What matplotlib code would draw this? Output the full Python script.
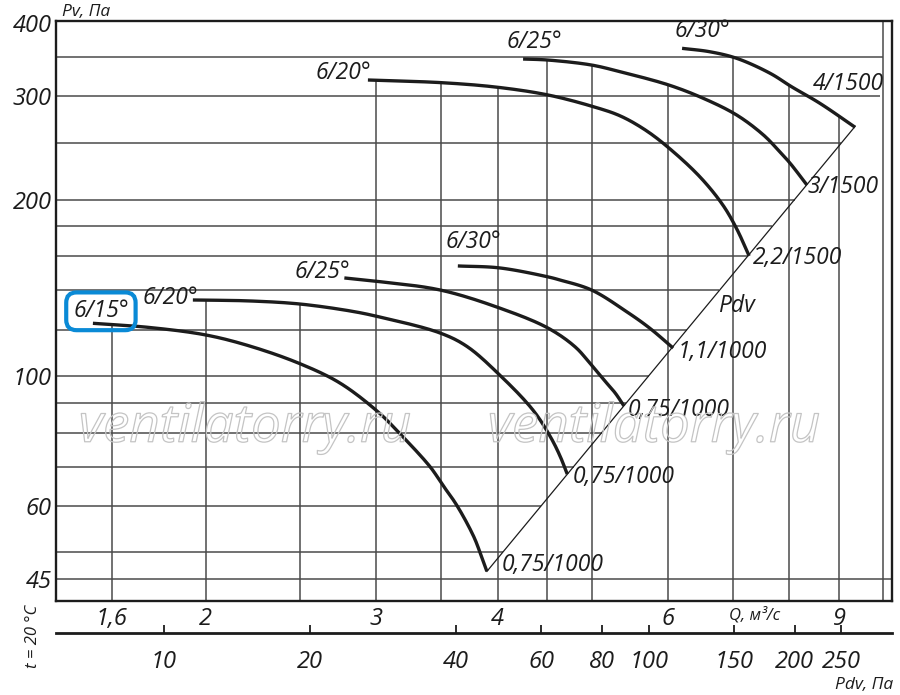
import numpy as np
import matplotlib
matplotlib.use("Agg")
import matplotlib.pyplot as plt
import matplotlib.patheffects as pe
from matplotlib.ticker import NullLocator, FixedLocator, FixedFormatter, NullFormatter

# ---------------- data ----------------
# flow Q, m3/s  and static pressure Pv, Pa for each characteristic
q_615_lo = [1.53, 1.75, 2.0, 2.22, 2.5, 2.75, 3.01, 3.17, 3.41, 3.51, 3.63, 3.78, 3.85, 3.90]
p_615_lo = [123.0, 121.0, 117.5, 112.5, 105.0, 97.3, 86.9, 79.8, 69.9, 65.2, 60.2, 53.2, 49.2, 46.4]

q_620_lo = [1.94, 2.22, 2.5, 2.82, 3.01, 3.49, 3.72, 4.02, 4.35, 4.53, 4.64, 4.72]
p_620_lo = [134.8, 134.3, 132.7, 129.1, 126.3, 118.4, 112.3, 100.4, 87.5, 79.0, 73.0, 68.0]

q_625_lo = [2.78, 3.01, 3.49, 4.02, 4.51, 4.81, 4.98, 5.16, 5.29, 5.40]
p_625_lo = [147.0, 145.0, 140.2, 130.6, 120.7, 112.1, 105.2, 98.1, 93.5, 88.9]

q_630_lo = [3.64, 4.02, 4.51, 4.64, 5.0, 5.44, 5.74, 6.07]
p_630_lo = [154.1, 152.9, 147.6, 145.8, 140.2, 128.6, 120.7, 111.6]

q_620_hi = [2.94, 3.51, 4.0, 4.51, 5.02, 5.35, 5.68, 6.01, 6.47, 6.83, 7.06, 7.27]
p_620_hi = [320.0, 316.6, 311.0, 301.7, 288.2, 278.0, 263.0, 244.9, 218.6, 195.8, 178.2, 160.3]

q_625_hi = [4.25, 4.51, 5.0, 5.35, 6.01, 6.52, 7.06, 7.52, 7.79, 8.01, 8.34]
p_625_hi = [347.5, 346.1, 339.4, 330.6, 313.7, 297.8, 278.8, 257.9, 243.0, 230.9, 211.8]

q_630_hi = [6.2, 6.62, 7.06, 7.64, 8.04, 8.60, 9.35]
p_630_hi = [362.4, 357.6, 348.4, 328.6, 311.7, 292.0, 265.8]

curve_names = ["6/15°", "6/20°", "6/25°", "6/30°", "6/20°", "6/25°", "6/30°"]
motor_labels = ["0,75/1000", "0,75/1000", "0,75/1000", "1,1/1000",
                "2,2/1500", "3/1500", "4/1500"]

q_grid = [1.6, 2, 2.5, 3, 3.5, 4, 4.5, 5, 6, 7, 8, 9, 10]
q_ticks = [1.6, 2, 3, 4, 6, 9]
q_tick_labels = ["1,6", "2", "3", "4", "6", "9"]
p_grid = [45, 50, 60, 70, 80, 90, 100, 120, 140, 160, 180, 200, 250, 300, 350]
p_ticks = [45, 60, 100, 200, 300, 400]
p_tick_labels = ["45", "60", "100", "200", "300", "400"]
pdv_ticks = [10, 20, 40, 60, 80, 100, 150, 200, 250]
PDV_COEF = 3.05          # Pdv = k * Q^2, Pa

curves = [(q_615_lo, p_615_lo), (q_620_lo, p_620_lo), (q_625_lo, p_625_lo),
          (q_630_lo, p_630_lo), (q_620_hi, p_620_hi), (q_625_hi, p_625_hi),
          (q_630_hi, p_630_hi)]

# ---------------- layout / style ----------------
FONT = ["Open Sans", "DejaVu Sans"]
plt.rcParams["font.family"] = FONT
plt.rcParams["font.style"] = "italic"
INK = "#1c1c1c"
GRID = "#4a4a4a"

# label offsets in pixels (start labels: centre; end labels: left/centre)
start_offsets = [(8, 12), (-23, 2), (-22, 6), (16, 24), (-25, 7), (11, 17), (20, 17)]
end_offsets = [(15, 6), (5, -3), (4, -4), (5, -4), (4, -2), (1, -2), (-42, 43)]

fig = plt.figure(figsize=(9, 6.95), dpi=100)
ax = fig.add_axes([56 / 900, 1 - 601 / 695, (891.7 - 56) / 900, (601 - 21) / 695])
ax.set_xscale("log")
ax.set_yscale("log")
XL = (1.4016, 10.2)
YL = (41.3, 403.5)
ax.set_xlim(*XL)
ax.set_ylim(*YL)

for s in ax.spines.values():
    s.set_linewidth(1.7)
    s.set_color(INK)

ax.xaxis.set_major_locator(FixedLocator(q_ticks))
ax.xaxis.set_major_formatter(FixedFormatter(q_tick_labels))
ax.yaxis.set_major_locator(FixedLocator(p_ticks))
ax.yaxis.set_major_formatter(FixedFormatter(p_tick_labels))
for a in (ax.xaxis, ax.yaxis):
    a.set_minor_locator(NullLocator())
    a.set_minor_formatter(NullFormatter())
ax.tick_params(axis="x", length=0, pad=4, labelsize=17, colors=INK)
ax.tick_params(axis="y", length=0, pad=3, labelsize=17, colors=INK)


def smooth_path(q, p, n=16):
    """Centripetal Catmull-Rom through the read points, built in display space."""
    pts = ax.transData.transform(np.column_stack([q, p]))
    P = np.vstack([2 * pts[0] - pts[1], pts, 2 * pts[-1] - pts[-2]])
    out = []
    for i in range(1, len(P) - 2):
        p0, p1, p2, p3 = P[i - 1], P[i], P[i + 1], P[i + 2]
        t0 = 0.0
        t1 = t0 + np.linalg.norm(p1 - p0) ** 0.5
        t2 = t1 + np.linalg.norm(p2 - p1) ** 0.5
        t3 = t2 + np.linalg.norm(p3 - p2) ** 0.5
        t = np.linspace(t1, t2, n, endpoint=False)[:, None]
        a1 = (t1 - t) / (t1 - t0) * p0 + (t - t0) / (t1 - t0) * p1
        a2 = (t2 - t) / (t2 - t1) * p1 + (t - t1) / (t2 - t1) * p2
        a3 = (t3 - t) / (t3 - t2) * p2 + (t - t2) / (t3 - t2) * p3
        b1 = (t2 - t) / (t2 - t0) * a1 + (t - t0) / (t2 - t0) * a2
        b2 = (t3 - t) / (t3 - t1) * a2 + (t - t1) / (t3 - t1) * a3
        c = (t2 - t) / (t2 - t1) * b1 + (t - t1) / (t2 - t1) * b2
        out.append(c)
    out.append(pts[-1:])
    d = ax.transData.inverted().transform(np.vstack(out))
    return d[:, 0], d[:, 1]


# ---------------- grid clipped by curves and Pdv line ----------------
def envelope(q):
    top = None
    for cq, cp in curves:
        if cq[0] <= q <= cq[-1]:
            v = 10 ** np.interp(np.log10(q), np.log10(cq), np.log10(cp))
            top = v if top is None else max(top, v)
    return YL[1] if top is None else top


for qg in q_grid:
    ax.vlines(qg, YL[0], envelope(qg), color=GRID, lw=1.1, zorder=1)

p_diag_lo = PDV_COEF * q_615_lo[-1] ** 2
for pg in p_grid:
    if pg < p_diag_lo:
        xmax = XL[1]
    else:
        xmax = min(np.sqrt(pg / PDV_COEF), q_grid[-1])
    ax.hlines(pg, XL[0], xmax, color=GRID, lw=1.1, zorder=1)

# Pdv line
qd = np.geomspace(q_615_lo[-1], q_630_hi[-1], 60)
ax.plot(qd, PDV_COEF * qd ** 2, color=INK, lw=0.9, zorder=2)
ax.text(7.05, 131.6, "Pdv", fontsize=16.5, ha="center", va="center", color=INK)

# curves + labels
for i, (cq, cp) in enumerate(curves):
    sx, sy = smooth_path(cq, cp)
    ax.plot(sx, sy, color=INK, lw=2.4, solid_capstyle="butt", zorder=3)
    kw = dict(fontsize=16.5, color=INK, textcoords="offset pixels", zorder=4)
    if i == 0:
        ax.annotate(curve_names[i], (cq[0], cp[0]), xytext=start_offsets[i],
                    ha="center", va="center",
                    bbox=dict(boxstyle="round,pad=0.3,rounding_size=0.45",
                              fc="none", ec="#0a8ad6", lw=3), **kw)
    else:
        ax.annotate(curve_names[i], (cq[0], cp[0]), xytext=start_offsets[i],
                    ha="center", va="center", **kw)
    ax.annotate(motor_labels[i], (cq[-1], cp[-1]), xytext=end_offsets[i],
                ha="left", va="center", **kw)

# Q axis label
ax.text(7.37, -0.025, "Q, м³/с", transform=ax.get_xaxis_transform(),
        fontsize=12, ha="center", va="center", color=INK)

# ---------------- Pdv scale ----------------
def fwd(q):
    return PDV_COEF * np.asarray(q) ** 2


def inv(p):
    return np.sqrt(np.maximum(np.asarray(p), 1e-12) / PDV_COEF)


sec = ax.secondary_xaxis(-0.0557, functions=(fwd, inv))
sec.xaxis.set_major_locator(FixedLocator(pdv_ticks))
sec.xaxis.set_major_formatter(FixedFormatter([str(v) for v in pdv_ticks]))
sec.xaxis.set_minor_locator(NullLocator())
sec.xaxis.set_minor_formatter(NullFormatter())
sec.tick_params(axis="x", direction="in", length=6, width=1.3, pad=12,
                labelsize=17, colors=INK)
sec.spines["bottom"].set_linewidth(2.0)
sec.spines["bottom"].set_color(INK)

# ---------------- free texts ----------------
fig.text(62 / 900, 1 - 12 / 695, "Pv, Па", fontsize=12.5, ha="left", va="center", color=INK)
fig.text(893 / 900, 1 - 685 / 695, "Pdv, Па", fontsize=12.5, ha="right", va="center", color=INK)
fig.text(33 / 900, 1 - 636 / 695, "t = 20 °C", fontsize=12, rotation=90,
         ha="center", va="center", color=INK)

for cx in (245, 654):
    fig.text(cx / 900, 1 - 428 / 695, "ventilatorry.ru", fontsize=38,
             ha="center", va="center", color="none", zorder=10,
             path_effects=[pe.Stroke(linewidth=0.9, foreground="#c4c4c4")])

fig.savefig("out.png", dpi=100)
